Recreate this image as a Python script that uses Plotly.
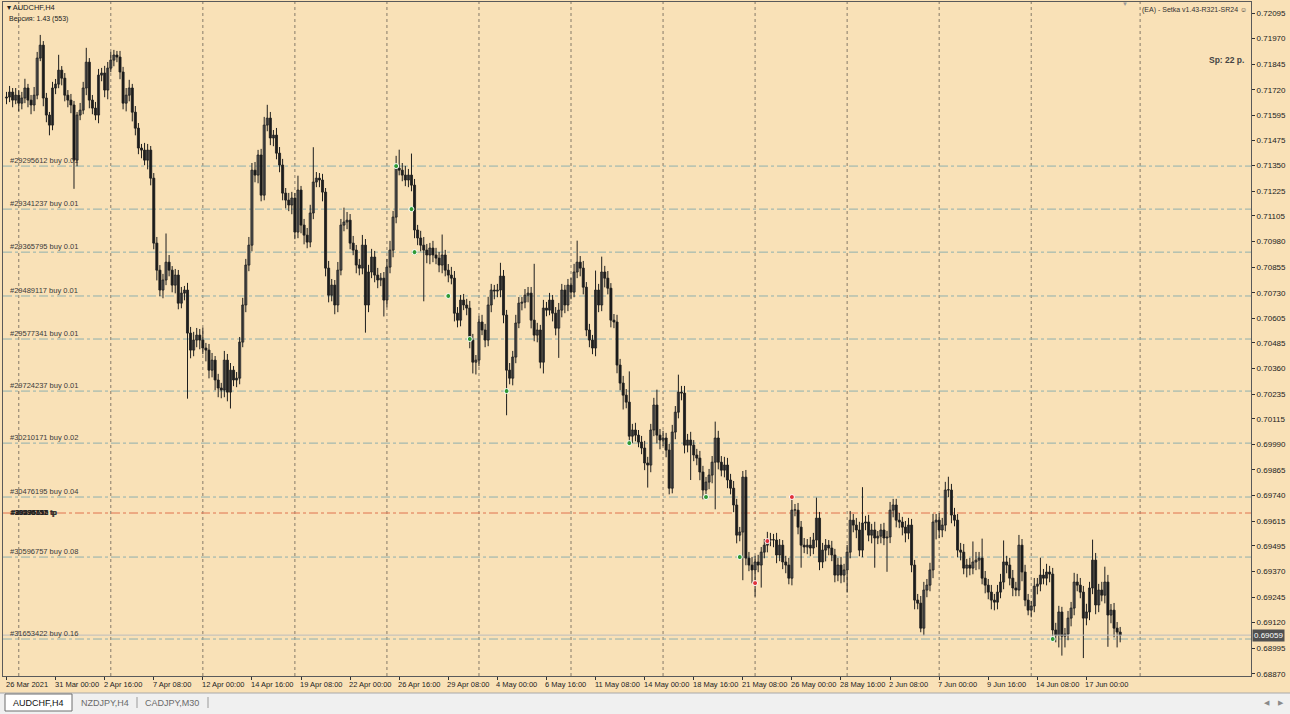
import plotly.graph_objects as go

# ---------------- data (prices in points, 1 point = 0.00001) ----------------
first_open_pts = 71680
closes_pts = [
    71685, 71709, 71670, 71694, 71655, 71680, 71729, 71670, 71646, 71694,
    71875, 71938, 71680, 71597, 71548, 71729, 71748, 71816, 71777, 71694,
    71670, 71646, 71377, 71597, 71621, 71729, 71855, 71670, 71631, 71597,
    71792, 71802, 71719, 71826, 71865, 71890, 71880, 71807, 71655, 71694,
    71729, 71611, 71533, 71436, 71426, 71377, 71426, 71289, 70972, 70840,
    70743, 70792, 70879, 70840, 70767, 70816, 70679, 70728, 70743, 70533,
    70450, 70499, 70523, 70499, 70460, 70450, 70352, 70401, 70304, 70265,
    70255, 70401, 70245, 70352, 70304, 70313, 70489, 70670, 70865, 70962,
    71328, 71304, 71402, 71206, 71548, 71582, 71485, 71499, 71411, 71353,
    71216, 71182, 71158, 71192, 71026, 71231, 71060, 71011, 70977, 71119,
    71270, 71289, 71280, 71221, 70850, 70718, 70767, 70670, 70840, 71060,
    71075, 71084, 70972, 70938, 70865, 70850, 70962, 70670, 70831, 70904,
    70816, 70792, 70801, 70694, 70855, 70938, 71099, 71338, 71328, 71304,
    71280, 71304, 71255, 71036, 70997, 70962, 70938, 70914, 70948, 70914,
    70899, 70865, 70914, 70840, 70816, 70801, 70630, 70596, 70694, 70670,
    70655, 70499, 70391, 70401, 70587, 70548, 70499, 70670, 70743, 70738,
    70743, 70811, 70621, 70352, 70313, 70416, 70582, 70679, 70684, 70718,
    70728, 70596, 70523, 70548, 70391, 70655, 70645, 70694, 70630, 70557,
    70645, 70743, 70670, 70767, 70733, 70831, 70879, 70850, 70757, 70548,
    70499, 70460, 70743, 70670, 70831, 70801, 70752, 70596, 70587, 70377,
    70289, 70230, 70196, 70030, 70060, 70035, 70001, 69972, 69899, 69889,
    70060, 70182, 70035, 70011, 70021, 69962, 69776, 70050, 70147, 70245,
    70240, 69986, 70011, 69986, 69938, 69923, 69855, 69767, 69806, 69840,
    69903, 70021, 69903, 69864, 69889, 69816, 69776, 69694, 69547, 69562,
    69830, 69435, 69401, 69377, 69416, 69401, 69464, 69498, 69523, 69523,
    69523, 69450, 69498, 69416, 69401, 69337, 69669, 69669, 69586, 69498,
    69489, 69498, 69484, 69523, 69630, 69416, 69474, 69498, 69484, 69450,
    69352, 69401, 69352, 69377, 69464, 69620, 69596, 69572, 69474, 69606,
    69611, 69547, 69572, 69533, 69542, 69572, 69533, 69538, 69669, 69694,
    69620, 69611, 69586, 69557, 69596, 69401, 69230, 69215, 69093, 69279,
    69303, 69377, 69611, 69620, 69572, 69596, 69767, 69767, 69645, 69620,
    69474, 69464, 69386, 69401, 69386, 69416, 69425, 69435, 69337, 69303,
    69269, 69230, 69220, 69269, 69318, 69416, 69401, 69337, 69289, 69279,
    69498, 69367, 69230, 69181, 69201, 69298, 69308, 69352, 69337, 69367,
    69357, 69084, 69059, 69172, 69054, 69064, 69142, 69191, 69318, 69303,
    69269, 69142, 69172, 69289, 69425, 69206, 69279, 69254, 69318, 69157,
    69181, 69093, 69074, 69059,
]
wick_up_pts = [
    25, 30, 20, 35, 25, 30, 45, 20, 25, 40,
    30, 50, 20, 25, 15, 30, 25, 75, 20, 25,
    25, 30, 20, 15, 35, 30, 70, 20, 25, 30,
    30, 25, 35, 30, 40, 25, 20, 30, 25, 35,
    40, 20, 30, 25, 20, 35, 30, 20, 25, 30,
    25, 30, 140, 35, 20, 30, 25, 30, 20, 35,
    30, 40, 35, 30, 60, 25, 30, 35, 20, 30,
    25, 45, 30, 35, 20, 30, 25, 35, 30, 40,
    35, 40, 25, 30, 40, 65, 30, 25, 35, 30,
    30, 25, 35, 30, 25, 70, 20, 30, 35, 40,
    170, 30, 25, 30, 20, 35, 30, 25, 40, 30,
    70, 40, 30, 35, 25, 30, 50, 30, 35, 40,
    30, 35, 25, 30, 40, 45, 30, 60, 90, 35,
    45, 30, 105, 30, 25, 35, 40, 30, 25, 35,
    35, 30, 100, 25, 30, 40, 35, 30, 25, 30,
    30, 35, 30, 25, 30, 35, 30, 40, 30, 25,
    30, 65, 30, 25, 35, 30, 40, 30, 25, 30,
    30, 30, 275, 35, 25, 40, 30, 35, 25, 30,
    35, 30, 25, 30, 35, 40, 105, 30, 35, 25,
    30, 25, 95, 30, 75, 30, 35, 25, 30, 35,
    30, 35, 30, 150, 30, 35, 25, 30, 35, 30,
    30, 35, 75, 30, 35, 25, 30, 35, 30, 85,
    30, 35, 30, 40, 25, 30, 35, 30, 25, 30,
    30, 80, 35, 30, 40, 35, 30, 35, 30, 25,
    30, 35, 30, 40, 30, 35, 25, 30, 40, 35,
    30, 35, 30, 25, 30, 35, 65, 30, 35, 30,
    35, 30, 40, 35, 100, 30, 35, 30, 25, 35,
    30, 35, 40, 30, 35, 45, 30, 35, 40, 175,
    30, 35, 30, 40, 25, 30, 35, 30, 40, 30,
    30, 35, 25, 30, 35, 30, 25, 30, 35, 40,
    30, 35, 40, 30, 35, 35, 40, 65, 30, 35,
    30, 35, 40, 30, 35, 100, 40, 30, 95, 35,
    30, 35, 30, 35, 40, 105, 30, 35, 40, 30,
    50, 30, 35, 30, 25, 40, 30, 85, 30, 40,
    30, 30, 35, 30, 25, 30, 35, 30, 45, 40,
    35, 30, 40, 30, 100, 35, 30, 40, 75, 35,
    30, 35, 30, 25,
]
wick_dn_pts = [
    30, 25, 35, 20, 40, 30, 25, 35, 45, 30,
    20, 15, 40, 35, 50, 25, 30, 20, 35, 30,
    35, 40, 140, 30, 25, 20, 35, 40, 30, 25,
    40, 30, 35, 45, 20, 30, 25, 35, 30, 40,
    30, 45, 35, 30, 40, 25, 45, 35, 30, 50,
    30, 40, 25, 30, 35, 40, 30, 25, 35, 320,
    40, 30, 35, 45, 30, 55, 40, 35, 50, 45,
    40, 35, 45, 80, 30, 35, 30, 25, 35, 30,
    30, 35, 40, 30, 25, 30, 35, 40, 30, 35,
    35, 40, 30, 45, 35, 30, 40, 45, 30, 25,
    30, 25, 35, 45, 40, 35, 30, 45, 35, 25,
    30, 35, 30, 25, 40, 35, 30, 135, 35, 30,
    35, 40, 30, 80, 35, 30, 35, 30, 25, 30,
    30, 35, 30, 40, 35, 30, 250, 40, 45, 35,
    30, 35, 40, 30, 35, 30, 40, 35, 30, 25,
    35, 40, 55, 60, 30, 25, 35, 30, 35, 40,
    30, 35, 40, 220, 30, 35, 30, 25, 35, 30,
    35, 40, 30, 35, 30, 55, 30, 25, 40, 35,
    145, 35, 40, 30, 35, 25, 30, 40, 35, 30,
    35, 30, 40, 35, 30, 45, 30, 35, 30, 40,
    35, 70, 30, 40, 35, 30, 25, 30, 35, 110,
    35, 30, 40, 45, 30, 35, 30, 25, 35, 30,
    35, 40, 35, 170, 30, 35, 40, 45, 30, 35,
    40, 230, 35, 30, 35, 40, 30, 35, 40, 30,
    235, 35, 30, 65, 130, 35, 110, 30, 35, 30,
    35, 40, 30, 35, 40, 30, 35, 30, 35, 110,
    30, 35, 40, 30, 35, 40, 30, 55, 35, 30,
    35, 30, 40, 35, 110, 30, 35, 40, 30, 35,
    35, 30, 40, 145, 30, 35, 35, 165, 30, 35,
    35, 30, 40, 45, 30, 35, 45, 30, 20, 35,
    35, 30, 40, 85, 40, 35, 30, 35, 40, 30,
    35, 40, 30, 45, 35, 30, 40, 45, 30, 40,
    35, 45, 40, 35, 30, 35, 40, 35, 40, 30,
    30, 45, 30, 25, 35, 30, 40, 35, 30, 35,
    40, 30, 35, 60, 95, 55, 30, 40, 35, 30,
    30, 195, 35, 40, 30, 45, 35, 30, 40, 155,
    40, 45, 75, 35,
]

time_labels = ["26 Mar 2021", "31 Mar 00:00", "2 Apr 16:00", "7 Apr 08:00", "12 Apr 00:00",
               "14 Apr 16:00", "19 Apr 08:00", "22 Apr 00:00", "26 Apr 16:00", "29 Apr 08:00",
               "4 May 00:00", "6 May 16:00", "11 May 08:00", "14 May 00:00", "18 May 16:00",
               "21 May 08:00", "26 May 00:00", "28 May 16:00", "2 Jun 08:00", "7 Jun 00:00",
               "9 Jun 16:00", "14 Jun 08:00", "17 Jun 00:00"]
bars_per_label = 16

price_ticks = [0.72095, 0.71970, 0.71845, 0.71720, 0.71595, 0.71475, 0.71350, 0.71225, 0.71105,
               0.70980, 0.70855, 0.70730, 0.70605, 0.70485, 0.70360, 0.70235, 0.70115, 0.69990,
               0.69865, 0.69740, 0.69615, 0.69495, 0.69370, 0.69245, 0.69120, 0.68995, 0.68870]

order_tickets = ["#29295612", "#29341237", "#29365795", "#29489117", "#29577341",
                 "#29724237", "#30210171", "#30476195", "#30596757", "#31653422"]
order_lots = ["0.01", "0.01", "0.01", "0.01", "0.01", "0.01", "0.02", "0.04", "0.08", "0.16"]
order_prices = [0.71348, 0.71138, 0.70928, 0.70714, 0.70504, 0.70250, 0.69996, 0.69733, 0.69440, 0.69040]
entry_bars = [127, 132, 133, 144, 151, 163, 203, 228, 239, 341]
tp_price = 0.69655
tp_tickets = ["#30596757", "#30476195", "#29295612"]
exit_bars = [244, 248, 256]
exit_prices = [0.69313, 0.69518, 0.69733]
bid_price = 0.69059
monday_bars = [4, 34, 64, 94, 124, 154, 184, 214, 244, 274, 304, 334]

# ---------------- build OHLC ----------------
n = len(closes_pts)
x = list(range(n))
opens, highs, lows, closes = [], [], [], []
prev = first_open_pts
for i in range(n):
    o, c = prev, closes_pts[i]
    opens.append(o / 1e5)
    closes.append(c / 1e5)
    highs.append((max(o, c) + wick_up_pts[i]) / 1e5)
    lows.append((min(o, c) - wick_dn_pts[i]) / 1e5)
    prev = c

body_base = [min(o, c) for o, c in zip(opens, closes)]
body_len = [max(abs(c - o), 0.00002) for o, c in zip(opens, closes)]
body_col = ["#8A8A8A" if c >= o else "#141414" for o, c in zip(opens, closes)]
wx, wy = [], []
for i in range(n):
    wx += [i, i, None]
    wy += [lows[i], highs[i], None]

BG = "#F9E1B7"
FONT = "Liberation Sans"
W, H = 1290, 714
L, R, T, B = 3, 39, 2, 38
PW, PH = W - L - R, H - T - B


def px(v):
    return (v - L) / PW


def py(v):
    return (H - B - v) / PH


fig = go.Figure()
fig.add_trace(go.Scatter(
    x=wx, y=wy, mode="lines", line=dict(color="#1E1E1E", width=1),
    hoverinfo="skip", showlegend=False, connectgaps=False,
))
fig.add_trace(go.Bar(
    x=x, y=body_len, base=body_base, width=0.68,
    marker=dict(color=body_col, line=dict(color="#1E1E1E", width=0.8)),
    hoverinfo="skip", showlegend=False,
))
fig.add_trace(go.Scatter(
    x=entry_bars, y=order_prices, mode="markers", showlegend=False, hoverinfo="skip",
    marker=dict(symbol="circle", size=5, color="#2E9A35", line=dict(color="#FFFFFF", width=1)),
))
fig.add_trace(go.Scatter(
    x=exit_bars, y=exit_prices, mode="markers", showlegend=False, hoverinfo="skip",
    marker=dict(symbol="circle", size=5, color="#E0303A", line=dict(color="#FFFFFF", width=1)),
))

shapes = []
annotations = []

# weekly grid
for b in monday_bars + [369.5]:
    shapes.append(dict(type="line", xref="x", yref="paper", x0=b, x1=b, y0=0, y1=1,
                       line=dict(color="#857A68", width=1, dash="dot"), layer="below"))

# order lines and labels
for t, lot, p in zip(order_tickets, order_lots, order_prices):
    shapes.append(dict(type="line", xref="paper", yref="y", x0=0, x1=1, y0=p, y1=p,
                       line=dict(color="#8EB0AE", width=1, dash="dashdot"), layer="below"))
    annotations.append(dict(xref="paper", yref="y", x=px(8), y=p, text=f"{t} buy {lot}",
                            showarrow=False, xanchor="left", yanchor="bottom", yshift=-1,
                            font=dict(family=FONT, size=7.5, color="#3a3a3a")))
shapes.append(dict(type="line", xref="paper", yref="y", x0=0, x1=1, y0=tp_price, y1=tp_price,
                   line=dict(color="#E0724E", width=1, dash="dashdot"), layer="below"))
for k, t in enumerate(tp_tickets):
    annotations.append(dict(xref="paper", yref="y", x=px(8 + 0.6 * k), y=tp_price, text=f"<b>{t}</b> tp",
                            showarrow=False, xanchor="left", yanchor="middle", yshift=1,
                            font=dict(family=FONT, size=7.5, color="#222222")))

# bid line and label
shapes.append(dict(type="line", xref="paper", yref="y", x0=0, x1=1, y0=bid_price, y1=bid_price,
                   line=dict(color="#BDBDBD", width=1)))
annotations.append(dict(xref="paper", yref="y", x=px(1252), y=bid_price, text=f"{bid_price:.5f}",
                        showarrow=False, xanchor="left", yanchor="middle", bgcolor="#505050",
                        borderpad=1, font=dict(family=FONT, size=8, color="#FFFFFF")))

# time labels
for k, lab in enumerate(time_labels):
    annotations.append(dict(xref="x", yref="paper", x=k * bars_per_label, y=py(684), text=lab,
                            showarrow=False, xanchor="left", yanchor="middle", xshift=-3,
                            font=dict(family=FONT, size=7.5, color="#222222")))

# header texts
annotations += [
    dict(xref="paper", yref="paper", x=px(5), y=py(8), text="▾ AUDCHF,H4", showarrow=False,
         xanchor="left", yanchor="middle", font=dict(family=FONT, size=7.5, color="#222222")),
    dict(xref="paper", yref="paper", x=px(7), y=py(19), text="Версия: 1.43 (553)", showarrow=False,
         xanchor="left", yanchor="middle", font=dict(family=FONT, size=7, color="#222222")),
    dict(xref="paper", yref="paper", x=px(1249), y=py(10), text="(EA) - Setka v1.43-R321-SR24 ☺",
         showarrow=False, xanchor="right", yanchor="middle",
         font=dict(family=FONT, size=7, color="#333333")),
    dict(xref="paper", yref="paper", x=px(1246), y=py(60), text="<b>Sp: 22 p.</b>", showarrow=False,
         xanchor="right", yanchor="middle", font=dict(family=FONT, size=8.5, color="#444444")),
    dict(xref="paper", yref="paper", x=px(1125), y=py(4), text="▼", showarrow=False,
         xanchor="center", yanchor="middle", font=dict(family=FONT, size=6, color="#9A9A9A")),
]

# tab bar
shapes += [
    dict(type="rect", xref="paper", yref="paper", x0=px(0), x1=px(W), y0=py(693), y1=py(H),
         fillcolor="#F0F0F0", line=dict(width=0)),
    dict(type="line", xref="paper", yref="paper", x0=px(0), x1=px(W), y0=py(693), y1=py(693),
         line=dict(color="#A8A8A8", width=1)),
    dict(type="rect", xref="paper", yref="paper", x0=px(5), x1=px(72), y0=py(694), y1=py(711),
         fillcolor="#FFFFFF", line=dict(color="#6E6E6E", width=1)),
    dict(type="line", xref="paper", yref="paper", x0=px(137), x1=px(137), y0=py(697), y1=py(708),
         line=dict(color="#9A9A9A", width=1)),
    dict(type="line", xref="paper", yref="paper", x0=px(208), x1=px(208), y0=py(697), y1=py(708),
         line=dict(color="#9A9A9A", width=1)),
]
for lab, cx, col in [("AUDCHF,H4", 38, "#111111"), ("NZDJPY,H4", 105, "#6A6A6A"),
                     ("CADJPY,M30", 172, "#6A6A6A")]:
    annotations.append(dict(xref="paper", yref="paper", x=px(cx), y=py(702.5), text=lab,
                            showarrow=False, xanchor="center", yanchor="middle",
                            font=dict(family=FONT, size=9, color=col)))
for sym, cx in [("◀", 1267), ("▶", 1281)]:
    annotations.append(dict(xref="paper", yref="paper", x=px(cx), y=py(702.5), text=sym,
                            showarrow=False, xanchor="center", yanchor="middle",
                            font=dict(family=FONT, size=7, color="#8A8A8A")))

x0 = -1.14
x1 = x0 + PW / 3.068
y_top = 0.72095 + 11 * 0.0000488
y_bot = 0.72095 - 663 * 0.0000488

fig.update_layout(
    width=W, height=H, margin=dict(l=L, r=R, t=T, b=B, pad=0),
    paper_bgcolor=BG, plot_bgcolor=BG, barmode="overlay",
    shapes=shapes, annotations=annotations, showlegend=False, hovermode=False,
    xaxis=dict(range=[x0, x1], showgrid=False, zeroline=False,
               tickvals=[k * bars_per_label for k in range(len(time_labels))],
               showticklabels=False, ticks="outside", ticklen=3, tickcolor="#333333",
               showline=True, mirror=True, linecolor="#5A5A5A", linewidth=1, fixedrange=True),
    yaxis=dict(range=[y_bot, y_top], side="right", showgrid=False, zeroline=False,
               tickvals=price_ticks, ticktext=[f"{v:.5f}" for v in price_ticks],
               ticks="outside", ticklen=3, tickcolor="#333333",
               tickfont=dict(family=FONT, size=8, color="#222222"),
               showline=True, mirror=True, linecolor="#5A5A5A", linewidth=1, fixedrange=True),
)

fig.write_html("out.html")
